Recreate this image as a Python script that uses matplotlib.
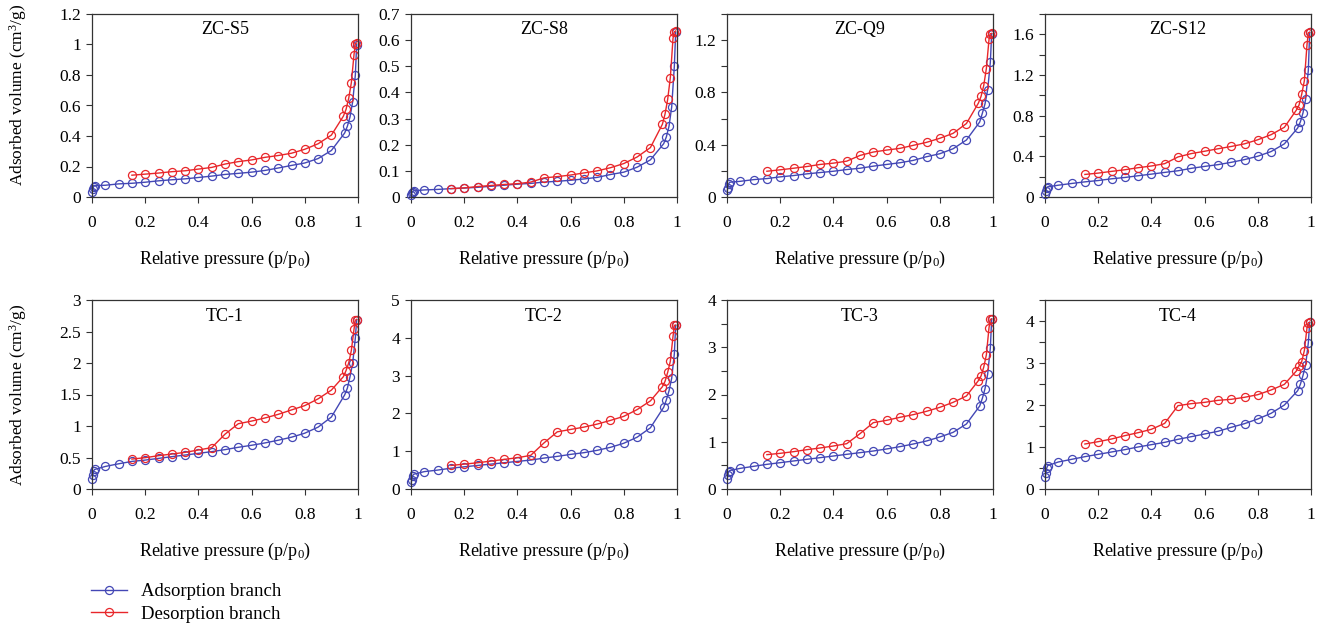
import matplotlib
matplotlib.use("Agg")
import matplotlib.pyplot as plt
from matplotlib.lines import Line2D
from matplotlib.ticker import MultipleLocator, FuncFormatter

plt.rcParams['font.family'] = ['Liberation Serif', 'DejaVu Serif']
plt.rcParams['mathtext.fontset'] = 'custom'
plt.rcParams['mathtext.rm'] = 'Liberation Serif'
plt.rcParams['mathtext.it'] = 'Liberation Serif:italic'

# relative pressure points of both branches
P_ADS = [0.001, 0.003, 0.006, 0.01, 0.05, 0.1, 0.15, 0.2, 0.25, 0.3, 0.35, 0.4, 0.45, 0.5,
         0.55, 0.6, 0.65, 0.7, 0.75, 0.8, 0.85, 0.9, 0.95, 0.96, 0.97, 0.98, 0.99, 0.995]
P_DES = [0.995, 0.99, 0.985, 0.975, 0.965, 0.955, 0.945, 0.9, 0.85, 0.8, 0.75, 0.7, 0.65,
         0.6, 0.55, 0.5, 0.45, 0.4, 0.35, 0.3, 0.25, 0.2, 0.15]

SAMPLES = ["ZC-S5", "ZC-S8", "ZC-Q9", "ZC-S12", "TC-1", "TC-2", "TC-3", "TC-4"]

ZC_S5_ADS = [0.035, 0.05, 0.068, 0.075, 0.077, 0.086, 0.09, 0.097, 0.106, 0.113, 0.119, 0.128, 0.137, 0.148,
             0.155, 0.163, 0.174, 0.19, 0.207, 0.223, 0.252, 0.305, 0.42, 0.464, 0.525, 0.625, 0.80, 1.0]
ZC_S5_DES = [1.01, 1.005, 0.934, 0.75, 0.647, 0.574, 0.53, 0.406, 0.349, 0.313, 0.287, 0.272, 0.26,
             0.243, 0.232, 0.216, 0.194, 0.183, 0.172, 0.166, 0.157, 0.15, 0.143]

ZC_S8_ADS = [0.006, 0.015, 0.021, 0.024, 0.027, 0.029, 0.032, 0.034, 0.037, 0.041, 0.045, 0.049, 0.052, 0.057,
             0.06, 0.064, 0.069, 0.075, 0.086, 0.095, 0.114, 0.142, 0.204, 0.23, 0.271, 0.344, 0.5, 0.63]
ZC_S8_DES = [0.635, 0.632, 0.607, 0.457, 0.374, 0.317, 0.278, 0.189, 0.153, 0.128, 0.112, 0.1, 0.092,
             0.084, 0.078, 0.073, 0.057, 0.051, 0.048, 0.044, 0.04, 0.035, 0.032]

ZC_Q9_ADS = [0.05, 0.07, 0.1, 0.113, 0.12, 0.133, 0.141, 0.154, 0.164, 0.177, 0.187, 0.197, 0.21, 0.22,
             0.236, 0.249, 0.262, 0.28, 0.308, 0.331, 0.369, 0.436, 0.574, 0.641, 0.713, 0.82, 1.03, 1.25]
ZC_Q9_DES = [1.251, 1.249, 1.205, 0.982, 0.851, 0.769, 0.718, 0.562, 0.487, 0.449, 0.418, 0.395, 0.372,
             0.359, 0.344, 0.318, 0.274, 0.259, 0.249, 0.233, 0.22, 0.208, 0.197]

ZC_S12_ADS = [0.03, 0.06, 0.09, 0.1, 0.116, 0.133, 0.149, 0.162, 0.179, 0.192, 0.209, 0.225, 0.242, 0.258,
              0.282, 0.301, 0.318, 0.341, 0.368, 0.401, 0.447, 0.523, 0.679, 0.739, 0.828, 0.964, 1.249, 1.62]
ZC_S12_DES = [1.62, 1.616, 1.50, 1.143, 1.01, 0.904, 0.855, 0.686, 0.613, 0.563, 0.523, 0.497, 0.474,
              0.45, 0.427, 0.394, 0.328, 0.305, 0.288, 0.268, 0.252, 0.235, 0.222]

TC_1_ADS = [0.16, 0.22, 0.29, 0.31, 0.358, 0.40, 0.438, 0.459, 0.486, 0.513, 0.539, 0.566, 0.593, 0.625,
            0.662, 0.694, 0.731, 0.774, 0.822, 0.886, 0.982, 1.143, 1.495, 1.60, 1.783, 1.997, 2.397, 2.69]
TC_1_DES = [2.69, 2.68, 2.536, 2.2, 2.0, 1.879, 1.783, 1.57, 1.431, 1.324, 1.255, 1.185, 1.127,
            1.078, 1.036, 0.87, 0.657, 0.619, 0.582, 0.555, 0.529, 0.497, 0.475]

TC_2_ADS = [0.18, 0.24, 0.35, 0.39, 0.46, 0.50, 0.55, 0.587, 0.623, 0.658, 0.694, 0.73, 0.765, 0.818,
            0.863, 0.916, 0.961, 1.023, 1.103, 1.21, 1.37, 1.619, 2.162, 2.358, 2.598, 2.927, 3.577, 4.33]
TC_2_DES = [4.333, 4.33, 4.039, 3.381, 3.087, 2.847, 2.705, 2.331, 2.1, 1.922, 1.815, 1.717, 1.637,
            1.575, 1.512, 1.219, 0.89, 0.827, 0.783, 0.738, 0.694, 0.658, 0.623]

TC_3_ADS = [0.21, 0.30, 0.36, 0.39, 0.437, 0.48, 0.522, 0.557, 0.593, 0.628, 0.663, 0.698, 0.734, 0.769,
            0.804, 0.847, 0.896, 0.952, 1.016, 1.1, 1.199, 1.376, 1.757, 1.919, 2.123, 2.434, 2.984, 3.6]
TC_3_DES = [3.598, 3.59, 3.414, 2.836, 2.575, 2.392, 2.293, 1.968, 1.834, 1.728, 1.644, 1.573, 1.517,
            1.453, 1.404, 1.171, 0.959, 0.91, 0.868, 0.832, 0.79, 0.755, 0.727]

TC_4_ADS = [0.28, 0.37, 0.49, 0.556, 0.643, 0.706, 0.77, 0.825, 0.881, 0.937, 1.0, 1.056, 1.111, 1.183,
            1.246, 1.31, 1.373, 1.468, 1.556, 1.667, 1.802, 2.0, 2.341, 2.492, 2.706, 2.96, 3.484, 3.97]
TC_4_DES = [3.968, 3.96, 3.841, 3.294, 3.032, 2.929, 2.81, 2.492, 2.357, 2.246, 2.183, 2.135, 2.111,
            2.063, 2.032, 1.984, 1.563, 1.421, 1.341, 1.27, 1.19, 1.127, 1.071]

ADS = [ZC_S5_ADS, ZC_S8_ADS, ZC_Q9_ADS, ZC_S12_ADS, TC_1_ADS, TC_2_ADS, TC_3_ADS, TC_4_ADS]
DES = [ZC_S5_DES, ZC_S8_DES, ZC_Q9_DES, ZC_S12_DES, TC_1_DES, TC_2_DES, TC_3_DES, TC_4_DES]

# y-axis: (top, major step, minor step)
Y_AXES = [(1.2, 0.2, None), (0.7, 0.1, None), (1.4, 0.4, 0.2), (1.8, 0.4, 0.2),
          (3, 0.5, None), (5, 1, None), (4, 1, 0.5), (4.5, 1, 0.5)]

BLUE = "#4347b5"
RED = "#e8262a"
SPINE = "#333333"

W, H = 1320, 628
COL_LEFT = [92, 411, 727, 1045]
COL_WIDTH = 266
ROW_TOP = [14, 300]
ROW_HEIGHT = [183, 189]
YLABEL_Y = [0.56, 0.5]


def fmt(v, _):
  return "{:g}".format(round(v, 3))


def style_axis(ax, top, major, minor):
  ax.set_xlim(0, 1)
  ax.set_ylim(0, top)
  ax.xaxis.set_major_locator(MultipleLocator(0.2))
  ax.yaxis.set_major_locator(MultipleLocator(major))
  if minor:
    ax.yaxis.set_minor_locator(MultipleLocator(minor))
  ax.xaxis.set_major_formatter(FuncFormatter(fmt))
  ax.yaxis.set_major_formatter(FuncFormatter(fmt))
  ax.tick_params(which="both", direction="out", length=4, width=0.8, color=SPINE,
                 labelsize=12.5, top=False, right=False)
  ax.tick_params(axis="x", pad=9)
  ax.tick_params(axis="y", pad=4)
  for s in ax.spines.values():
    s.set_color(SPINE)
    s.set_linewidth(0.9)
  ax.set_xlabel(r"Relative pressure (p/p$_0$)", fontsize=13, labelpad=13)


fig = plt.figure(figsize=(W / 100, H / 100), dpi=100)

for i, name in enumerate(SAMPLES):
  r, c = divmod(i, 4)
  ax = fig.add_axes([COL_LEFT[c] / W, 1 - (ROW_TOP[r] + ROW_HEIGHT[r]) / H,
                     COL_WIDTH / W, ROW_HEIGHT[r] / H])
  ax.plot(P_ADS, ADS[i], color=BLUE, lw=1, marker="o", ms=5.8, mfc="none", mew=0.9, clip_on=False)
  ax.plot(P_DES, DES[i], color=RED, lw=1, marker="o", ms=5.8, mfc="none", mew=0.9, clip_on=False)
  top, major, minor = Y_AXES[i]
  style_axis(ax, top, major, minor)
  ax.text(0.5, 0.915, name, transform=ax.transAxes, ha="center", va="center", fontsize=13)
  if c == 0:
    ax.set_ylabel(r"Adsorbed volume (cm$^3$/g)", fontsize=12.5)
    ax.yaxis.set_label_coords(-0.235, YLABEL_Y[r])

# legend below the panels
handles = [
    Line2D([], [], color=BLUE, lw=1, marker="o", ms=5.8, mfc="none", mew=0.9),
    Line2D([], [], color=RED, lw=1, marker="o", ms=5.8, mfc="none", mew=0.9),
]
fig.legend(handles, ["Adsorption branch", "Desorption branch"], loc="upper left",
           bbox_to_anchor=(91 / W, 1 - 583 / H), frameon=False, fontsize=13.5,
           handlelength=1.9, handletextpad=0.75, labelspacing=0.3, borderpad=0, borderaxespad=0)

fig.savefig("out.png", dpi=100)
